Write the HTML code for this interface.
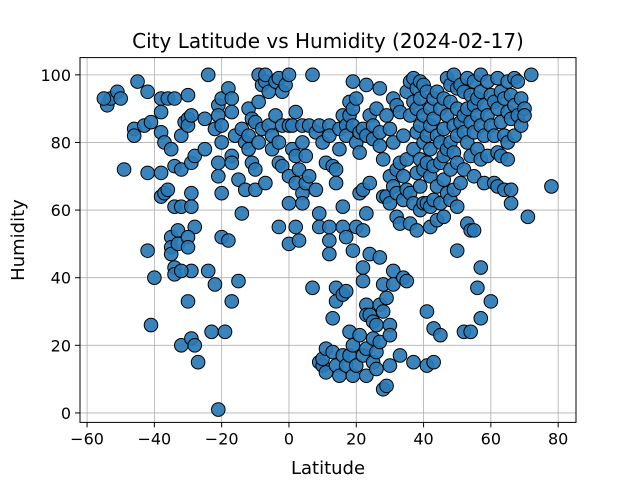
<!DOCTYPE html>
<html><head><meta charset="utf-8"><style>
body{margin:0;background:#fff;}
svg{display:block;font-family:"DejaVu Sans","Liberation Sans",sans-serif;}
</style></head><body>
<svg id="chart" width="640" height="480" viewBox="0 0 640 480">
<rect width="640" height="480" fill="#fff"/>
<text x="328" y="48" font-size="20" text-anchor="middle" fill="#000">City Latitude vs Humidity (2024-02-17)</text>
<g id="grid"></g>
<g id="points"></g>
<rect x="80" y="57.6" width="496" height="364.8" fill="none" stroke="#000" stroke-width="1"/>
<g id="ticks"></g>
<text x="328" y="474" font-size="18" text-anchor="middle">Latitude</text>
<text transform="translate(24,240) rotate(-90)" font-size="18" text-anchor="middle">Humidity</text>
</svg>
<script>
const xTicks=[-60,-40,-20,0,20,40,60,80];
const yTicks=[0,20,40,60,80,100];
const lats=[-54,-53,-51,-50,-55,-49,-46,-46,-45,-43,-42,-41,-42,-42,-41,-40,-38,-38,-38,-37,-38,-38,-37,-36,-36,-35,-34,-34,-34,-35,-35,-35,-34,-34,-33,-33,-32,-32,-32,-31,-30,-30,-30,-29,-29,-28,-29,-29,-28,-30,-30,-29,-32,-32,-30,-29,-28,-27,-25,-25,-24,-24,-23,-22,-22,-21,-21,-20,-20,-20,-21,-21,-20,-20,-19,-21,-18,-18,-17,-17,-17,-17,-17,-16,-15,-15,-14,-14,-13,-13,-12,-12,-12,-11,-11,-10,-10,-10,-9,-9,-9,-8,-8,-7,-7,-7,-6,-6,-5,-5,-4,-4,-3,-3,-3,-3,-2,-2,-2,-1,0,0,0,0,0,1,1,2,2,2,2,3,3,4,4,4,4,5,5,6,6,7,7,8,8,9,9,9,9,10,10,10,11,11,11,12,12,12,12,12,13,13,13,14,14,14,14,14,15,15,15,16,16,16,16,16,17,17,17,17,17,18,18,18,18,19,19,19,19,19,19,20,20,20,20,21,21,21,21,22,22,22,22,22,22,23,23,23,23,23,23,23,24,24,24,24,25,25,25,25,25,26,26,26,26,27,27,27,27,27,27,28,28,28,28,28,29,29,29,29,30,30,30,30,30,30,31,31,31,31,31,32,32,32,32,33,33,33,33,34,34,34,34,35,35,35,35,36,36,36,36,37,37,37,37,37,38,38,38,38,38,39,39,39,39,39,39,40,40,40,40,40,41,41,41,41,41,41,42,42,42,42,42,42,43,43,43,43,43,43,44,44,44,44,45,45,45,45,45,46,46,46,46,46,47,47,47,47,48,48,48,48,48,49,49,49,49,50,50,50,50,50,50,51,51,51,52,52,52,52,52,53,53,53,53,54,54,54,54,54,55,55,55,55,55,56,56,56,56,57,57,57,57,57,57,58,58,58,59,59,59,60,60,60,61,61,61,62,62,62,62,63,63,63,64,64,64,65,65,65,65,66,66,66,66,67,67,67,68,68,69,69,70,70,71,72,78];
const hums=[91,93,95,93,93,72,84,82,98,85,95,86,71,48,26,40,93,89,83,80,71,64,65,66,93,78,93,73,61,52,49,47,43,41,54,50,61,82,72,86,94,87,85,88,74,76,65,61,55,52,49,42,42,20,33,22,20,15,87,78,100,42,24,84,38,91,88,93,85,80,74,70,65,52,24,1,96,51,93,89,76,74,33,82,69,39,84,59,66,80,90,82,78,87,74,86,72,66,92,80,100,97,84,98,100,68,95,85,82,78,88,98,99,80,74,55,95,85,73,97,100,85,70,62,50,85,78,89,76,68,55,72,51,85,80,65,62,76,68,85,70,37,100,83,66,85,59,55,15,14,16,80,74,19,12,85,82,55,51,47,73,18,28,72,68,37,33,14,84,78,11,88,61,55,35,17,85,82,52,36,14,92,88,24,17,98,90,85,48,20,11,93,80,55,14,83,77,65,23,84,66,54,43,39,17,97,82,59,32,29,19,11,88,68,47,29,85,81,27,22,15,90,26,18,13,96,83,79,46,32,21,75,64,38,30,7,88,64,8,34,84,70,62,26,23,14,93,80,67,42,38,91,72,58,65,89,74,56,17,82,70,63,40,95,75,66,39,98,88,65,56,99,92,78,62,15,96,90,83,71,54,98,93,85,75,67,60,97,88,80,72,62,95,82,74,62,30,14,90,85,78,70,61,55,93,87,73,63,25,15,95,82,67,57,90,80,74,62,23,93,84,76,69,58,99,88,78,65,97,92,80,72,63,100,85,77,66,96,90,82,74,61,48,97,86,68,95,88,83,72,24,99,90,80,56,94,86,76,54,24,98,91,83,70,54,93,88,78,37,100,95,85,75,43,28,91,82,68,98,88,76,94,85,33,92,82,68,99,90,77,67,95,86,76,93,82,66,98,89,80,75,94,87,62,66,99,91,82,88,98,93,85,90,88,58,100,67];
const NS='http://www.w3.org/2000/svg';
const L=80,R=576,T=57.6,B=422.4,x0=-62.1,x1=85.3,y0=-2.8,y1=105.1;
function sx(v){return L+(v-x0)/(x1-x0)*(R-L);}
function sy(v){return B-(v-y0)/(y1-y0)*(B-T);}
const grid=document.getElementById('grid'),ticks=document.getElementById('ticks'),pts=document.getElementById('points');
function mk(tag,attrs,parent){const e=document.createElementNS(NS,tag);for(const k in attrs)e.setAttribute(k,attrs[k]);parent.appendChild(e);return e;}
xTicks.forEach(t=>{
  const g=mk('line',{x1:sx(t),x2:sx(t),y1:T,y2:B,stroke:'#b0b0b0','stroke-width':0.8},grid);
  
  
  const tk=mk('line',{x1:sx(t),x2:sx(t),y1:B,y2:B+5,stroke:'#000'},ticks);
  
  
  const lb=mk('text',{x:sx(t),y:B+22,'font-size':16,'text-anchor':'middle'},ticks);
  lb.textContent=t<0?'\u2212'+(-t):String(t);
  
  
});
yTicks.forEach(t=>{
  const g=mk('line',{x1:L,x2:R,y1:sy(t),y2:sy(t),stroke:'#b0b0b0','stroke-width':0.8},grid);
  
  
  const tk=mk('line',{x1:L-5,x2:L,y1:sy(t),y2:sy(t),stroke:'#000'},ticks);
  
  
  const lb=mk('text',{x:L-9,y:sy(t)+6,'font-size':16,'text-anchor':'end'},ticks);
  lb.textContent=String(t);
  
  
});
for(let i=0;i<lats.length;i++){
  const c=mk('circle',{cx:sx(lats[i]),cy:sy(hums[i]),r:6.8,fill:'#2a7ab5','fill-opacity':0.92,stroke:'#000','stroke-width':1},pts);
  
  
}
</script>
</body></html>
